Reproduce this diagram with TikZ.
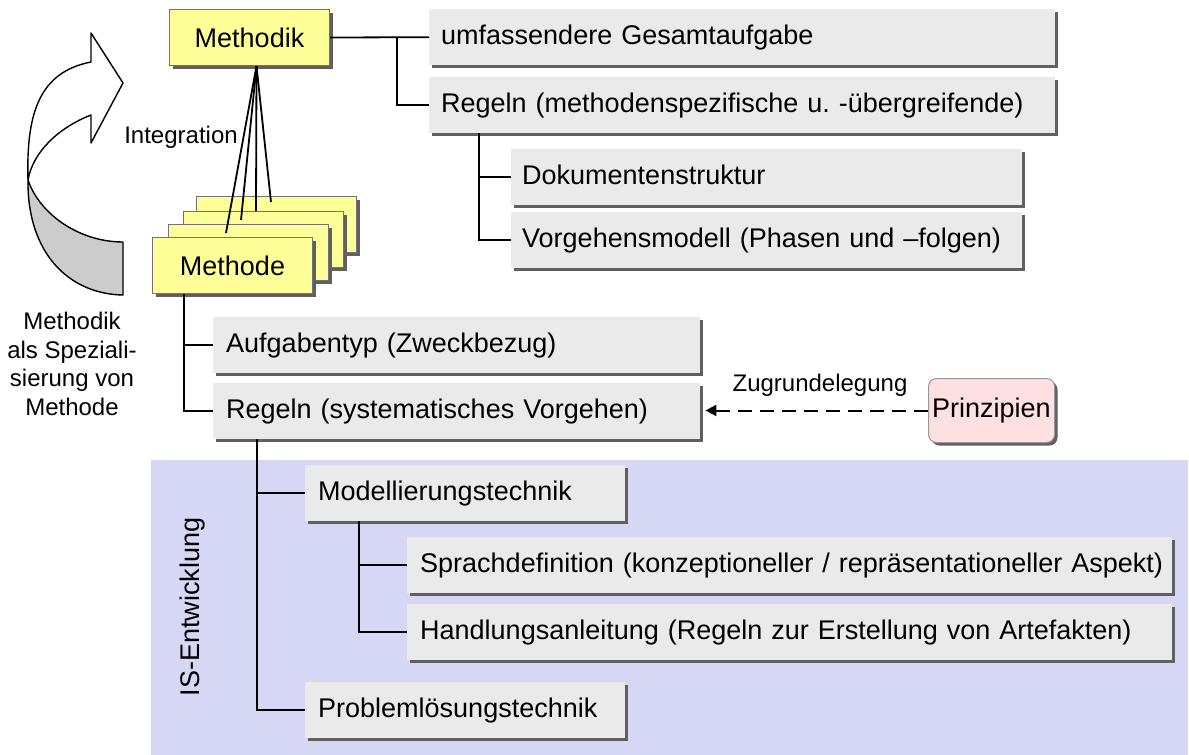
\documentclass[tikz,border=0pt]{standalone}
\usepackage{fontspec}
\setmainfont{Liberation Sans}
\usetikzlibrary{shadows,arrows.meta,calc}
\definecolor{boxgray}{RGB}{234,234,234}
\definecolor{shadowgray}{RGB}{96,96,96}
\definecolor{yell}{RGB}{255,255,153}
\definecolor{pinkfill}{RGB}{255,224,224}
\definecolor{isblue}{RGB}{214,214,245}
\definecolor{arrowgray}{RGB}{204,204,204}
\newcommand\bigf{\fontsize{27}{32}\selectfont}
\newcommand\medf{\fontsize{24}{28.5}\selectfont}
\frenchspacing
\begin{document}
\begin{tikzpicture}[x=1pt,y=-1pt,
  myshadow/.style={drop shadow={shadow xshift=3pt, shadow yshift=-3pt, fill=shadowgray, opacity=1}},
  gbox/.style={anchor=north west, fill=boxgray, inner xsep=13pt, inner ysep=0pt,
    minimum height=56pt, align=left, text height=20pt, text depth=6pt, font=\bigf, myshadow},
  ybox/.style={anchor=north west, fill=yell, draw=black!55, line width=1pt,
    minimum width=160pt, minimum height=56pt, inner sep=0pt, font=\bigf, myshadow},
  conn/.style={line width=1.8pt, black},
  dasharrow/.style={line width=2pt, dash pattern=on 14pt off 8pt, -{Triangle[length=11pt,width=11pt]}},
  ]
\useasboundingbox (0,0) rectangle (1189,755);
% blue background
\fill[isblue] (151,460) rectangle (1188,755);

% curved arrow
\filldraw[fill=white, line width=1.4pt, line join=round]
  (91,62) .. controls (40,72) and (26,112) .. (28,180)
  .. controls (33,152) and (58,128) .. (91,115)
  -- (91,143) -- (123,83) -- (91,33) -- cycle;
\filldraw[fill=arrowgray, line width=1.4pt, line join=round]
  (28,180) .. controls (40,215) and (80,242) .. (123,242)
  -- (123,295) .. controls (68,294) and (27,252) .. (28,180) -- cycle;

% yellow boxes
\node[ybox] (methodik) at (169,9) {Methodik};
\node[ybox] (m4) at (196,196) {};
\node[ybox] (m3) at (183,211) {};
\node[ybox] (m2) at (168,224) {};
\node[ybox] (methode) at (152,237) {Methode};

% integration lines
\coordinate (i1) at (226,233);
\coordinate (i2) at (241,220);
\coordinate (i3) at (256,211);
\coordinate (i4) at (271,202);
\foreach \p in {i1,i2,i3,i4}{\draw[conn] ([xshift=7pt]methodik.south) -- (\p);}
\node[font=\medf, anchor=base] (integ) at (181,143) {Integration};

% gray boxes
\node[gbox, inner xsep=12pt, text width=602pt] (gesamt) at (429,9) {\mbox{umfassendere Gesamtaufgabe}};
\node[gbox, inner xsep=12pt, text width=602pt] (regeln1) at (429,77) {\mbox{Regeln (methodenspezifische u. -übergreifende)}};
\node[gbox, inner xsep=11pt, text width=489pt] (dok) at (511,149) {\mbox{Dokumentenstruktur}};
\node[gbox, inner xsep=11pt, text width=489pt] (vorg) at (511,212) {\mbox{Vorgehensmodell (Phasen und –folgen)}};
\node[gbox, text width=461pt] (aufg) at (213,317) {\mbox{Aufgabentyp (Zweckbezug)}};
\node[gbox, text width=461pt] (regeln2) at (213,383) {\mbox{Regeln (systematisches Vorgehen)}};
\node[gbox, text width=294pt] (modell) at (305,465) {\mbox{Modellierungstechnik}};
\node[gbox, text width=739pt] (sprach) at (407,537) {\mbox{Sprachdefinition (konzeptioneller / repräsentationeller Aspekt)}};
\node[gbox, text width=739pt] (handl) at (407,604) {\mbox{Handlungsanleitung (Regeln zur Erstellung von Artefakten)}};
\node[gbox, text width=294pt] (probl) at (305,682) {\mbox{Problemlösungstechnik}};

% Prinzipien
\node[anchor=north west, fill=pinkfill, draw=black!40, line width=1pt, rounded corners=8pt,
  minimum width=126pt, minimum height=64pt, inner sep=0pt, font=\bigf, myshadow] (prinz) at (928,378) {Prinzipien};

% connectors
\draw[conn] (methodik.east) -- (gesamt.west);
\draw[conn] ($(methodik.east)!0.68!(gesamt.west)$) |- (regeln1.west);
\draw[conn] ([xshift=50pt]regeln1.south west) |- (dok.west);
\draw[conn] ([xshift=50pt]regeln1.south west) |- (vorg.west);
\draw[conn] ([xshift=32pt]methode.south west) |- (aufg.west);
\draw[conn] ([xshift=32pt]methode.south west) |- (regeln2.west);
\draw[conn] ([xshift=44pt]regeln2.south west) |- (modell.west);
\draw[conn] ([xshift=44pt]regeln2.south west) |- (probl.west);
\draw[conn] ([xshift=54pt]modell.south west) |- (sprach.west);
\draw[conn] ([xshift=54pt]modell.south west) |- (handl.west);
\draw[dasharrow] (prinz.west) -- ([xshift=5pt]prinz.west -| regeln2.east);
\node[font=\medf, anchor=base] (zug) at (820,391) {Zugrundelegung};

% labels
\node[font=\medf, align=center, inner sep=0pt] (spez) at (72,364) {Methodik\\als Speziali-\\sierung von\\Methode};
\node[font=\bigf, rotate=90, inner sep=0pt] (isent) at (193,607) {IS-Entwicklung};
\end{tikzpicture}
\end{document}
